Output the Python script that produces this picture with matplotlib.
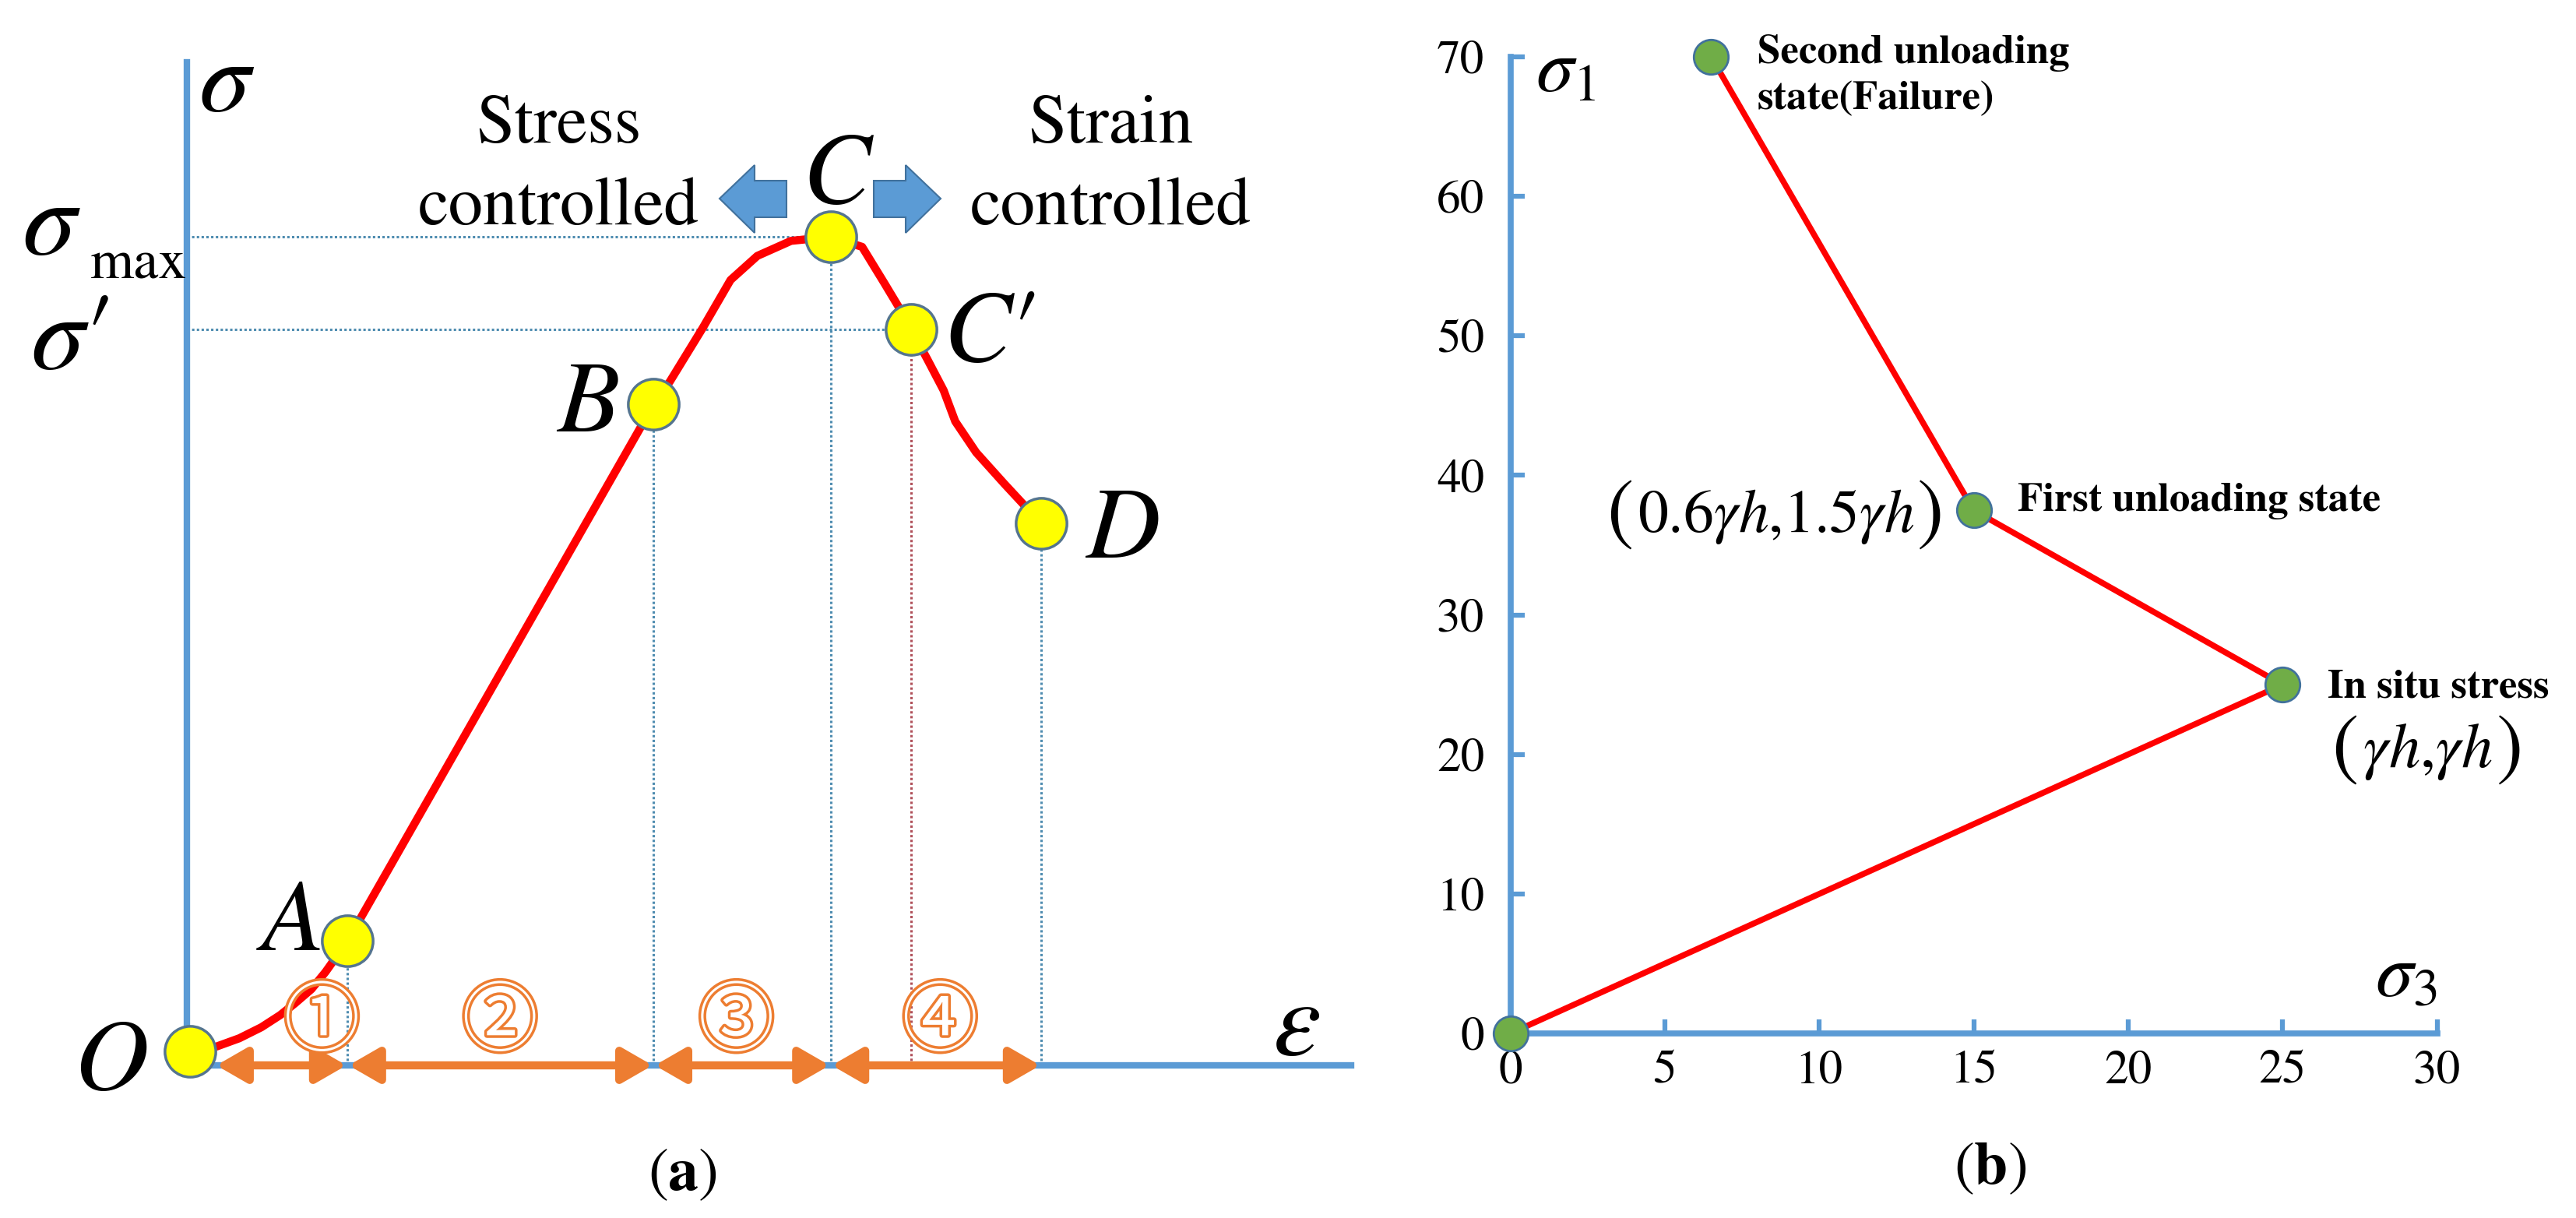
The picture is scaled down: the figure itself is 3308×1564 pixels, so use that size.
import matplotlib
matplotlib.use("Agg")
import matplotlib.pyplot as plt
from matplotlib.patches import Polygon
import matplotlib.patheffects as pe

plt.rcParams['font.family'] = ['STIXGeneral', 'DejaVu Serif']
plt.rcParams['mathtext.fontset'] = 'stix'

W, H = 3308, 1564

# --- (a) schematic stress-strain curve (arbitrary units 0-100) ---
key_names = ['O', 'A', 'B', 'C', "C'", 'D']
key_strain = [0.3, 13.8, 40.1, 55.3, 62.2, 73.4]
key_stress = [1.4, 12.4, 65.9, 82.6, 73.4, 54.0]

curve_strain = [0.3, 1.5, 2.6, 4.5, 6.4, 8.0, 9.3, 10.7, 11.9, 13.8, 40.1, 41.5,
                44.3, 46.7, 49.0, 51.9, 55.3, 58.0, 59.9, 61.3, 62.2, 63.6,
                65.0, 66.0, 67.8, 70.2, 73.4]
curve_stress = [1.4, 1.5, 1.9, 2.7, 3.8, 5.0, 6.2, 7.6, 9.3, 12.4, 65.9, 68.2,
                73.5, 78.3, 80.7, 82.2, 82.6, 81.6, 78.0, 75.3, 73.4, 70.4,
                67.3, 64.2, 61.1, 58.0, 54.0]

stage_labels = ['\u2460', '\u2461', '\u2462', '\u2463']
stage_label_x = [11.6, 26.9, 47.2, 64.7]

# --- (b) stress path sigma3 / sigma1 ---
path_s3 = [0, 25, 15, 6.5]
path_s1 = [0, 25, 37.5, 70]
xticks_b = [0, 5, 10, 15, 20, 25, 30]
yticks_b = [0, 10, 20, 30, 40, 50, 60, 70]

blue = '#5b9bd5'
orange = '#ed7d31'
dot_blue = '#4e8cb0'
dot_red = '#b0505a'

fig = plt.figure(figsize=(W / 100, H / 100), dpi=100)

# panel (a)
ax_a = fig.add_axes([240 / W, (H - 1368) / H, 1495 / W, 1288 / H])
ax_a.set_xlim(0, 100)
ax_a.set_ylim(0, 100)
ax_a.patch.set_visible(False)
for s in ['top', 'right']:
    ax_a.spines[s].set_visible(False)
for s in ['left', 'bottom']:
    ax_a.spines[s].set_color(blue)
    ax_a.spines[s].set_linewidth(6)
ax_a.set_xticks([])
ax_a.set_yticks([])

# guide lines
ax_a.plot([0, key_strain[3]], [key_stress[3]] * 2, color=dot_blue, lw=2.2,
          ls=(0, (1, 1)), zorder=2)
ax_a.plot([0, key_strain[4]], [key_stress[4]] * 2, color=dot_blue, lw=2.2,
          ls=(0, (1, 1)), zorder=2)
for i in [1, 2, 3, 4, 5]:
    c = dot_red if key_names[i] == "C'" else dot_blue
    ax_a.plot([key_strain[i]] * 2, [0, key_stress[i]], color=c, lw=2.2,
              ls=(0, (1, 1)), zorder=2)

ax_a.plot(curve_strain, curve_stress, color='#ff0000', lw=7.5, zorder=3,
          solid_capstyle='round', solid_joinstyle='round')

# stage arrows along strain axis
seg = [key_strain[0], key_strain[1], key_strain[2], key_strain[3], key_strain[5]]
for k in range(4):
    ax_a.annotate('', xy=(seg[k + 1], 0), xytext=(seg[k], 0),
                  arrowprops=dict(arrowstyle='<|-|>,head_length=1.3,head_width=0.75',
                                  color=orange, lw=7.5, mutation_scale=18,
                                  shrinkA=24 if k == 0 else 1, shrinkB=1),
                  zorder=4, annotation_clip=False)
    ax_a.text(stage_label_x[k], 4.2, stage_labels[k], fontsize=70, color='white',
              family=['Noto Sans CJK JP', 'DejaVu Sans'], ha='center', va='center',
              path_effects=[pe.withStroke(linewidth=5, foreground=orange)], zorder=4)

ax_a.plot(key_strain, key_stress, 'o', ms=47, mfc='#ffff00', mec='#55758f',
          mew=2.5, zorder=5, clip_on=False)

# panel (b)
ax_b = fig.add_axes([1939.5 / W, (H - 1327) / H, 1190 / W, (1327 - 73) / H])
ax_b.set_xlim(0, 30)
ax_b.set_ylim(0, 70)
ax_b.patch.set_visible(False)
for s in ['top', 'right']:
    ax_b.spines[s].set_visible(False)
for s in ['left', 'bottom']:
    ax_b.spines[s].set_color(blue)
    ax_b.spines[s].set_linewidth(5.5)
ax_b.set_xticks(xticks_b)
ax_b.set_yticks(yticks_b)
ax_b.tick_params(direction='in', length=13, width=4.5, color=blue, labelsize=44)
ax_b.tick_params(axis='x', pad=16)
ax_b.tick_params(axis='y', pad=24)
ax_b.plot(path_s3, path_s1, color='#ff0000', lw=5.5, zorder=3, clip_on=False)
ax_b.plot(path_s3, path_s1, 'o', ms=32, mfc='#70ad47', mec='#41719c', mew=2,
          zorder=5, clip_on=False)

# text layer in pixel coordinates
ax_c = fig.add_axes([0, 0, 1, 1], zorder=10)
ax_c.set_xlim(0, W)
ax_c.set_ylim(H, 0)
ax_c.axis('off')


def T(x, y, s, size, ha='center', va='baseline', **kw):
    ax_c.text(x, y, s, fontsize=size, ha=ha, va=va, **kw)


T(291, 143, r'$\sigma$', 95)
T(28, 326, r'$\sigma$', 100, ha='left')
T(116, 357, 'max', 52, ha='left')
T(39, 473, r'$\sigma\prime$', 100, ha='left')
T(142, 1400, r'$O$', 95)
T(371, 1220, r'$A$', 95)
T(754, 554, r'$B$', 95)
T(1076, 261, r'$C$', 95)
T(1211, 464, r'$C\prime$', 95, ha='left')
T(1393, 716, r'$D$', 95, ha='left')
T(1665, 1354, r'$\varepsilon$', 100)
T(717, 183, 'Stress', 64)
T(717, 288, 'controlled', 64)
T(1426, 183, 'Strain', 64)
T(1426, 288, 'controlled', 64)

# block arrows around C
left_arrow = [(924, 255), (969, 212), (969, 232), (1010, 232), (1010, 279),
              (969, 279), (969, 299)]
right_arrow = [(1208, 255), (1163, 212), (1163, 232), (1122, 232), (1122, 279),
               (1163, 279), (1163, 299)]
for pts in [left_arrow, right_arrow]:
    ax_c.add_patch(Polygon(pts, closed=True, fc=blue, ec='#41719c', lw=1.5))

T(876, 1528, r'$(\mathbf{a})$', 56)
T(2556, 1520, r'$(\mathbf{b})$', 56)

T(1972, 117, r'$\sigma_1$', 70, ha='left')
T(3050, 1280, r'$\sigma_3$', 70, ha='left')
T(2257, 81, 'Second unloading', 38, ha='left', fontweight='bold')
T(2257, 140, 'state(Failure)', 38, ha='left', fontweight='bold')
T(2591, 656, 'First unloading state', 38, ha='left', fontweight='bold')
T(2989, 895, 'In situ stress', 38, ha='left', fontweight='bold')

# coordinate labels with tall brackets
T(2994, 990, '(', 74, ha='left')
T(3117, 985, r'$\gamma h{,}\gamma h$', 58)
T(3240, 990, ')', 74, ha='right')
T(2063, 688, '(', 74, ha='left')
T(2281, 683, r'$0.6\gamma h{,}1.5\gamma h$', 56)
T(2496, 688, ')', 74, ha='right')

fig.savefig('out.png', dpi=100)
